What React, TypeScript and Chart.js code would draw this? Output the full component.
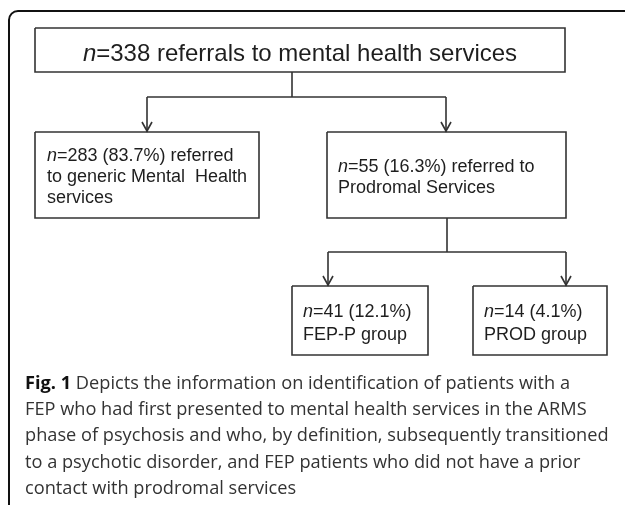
import React, { useEffect, useRef } from "react";
import { Chart, registerables } from "chart.js";
Chart.register(...registerables);

// ---- data ----
const nodeIds = ["total", "generic", "prodromal", "fepP", "prod"];
const nodeCounts = [338, 283, 55, 41, 14];
const nodePercents = ["", "83.7%", "16.3%", "12.1%", "4.1%"];
const nodeFirstLineTail = [
  "referrals to mental health services",
  "referred",
  "referred to",
  "",
  "",
];
const nodeExtraLines = [
  [],
  ["to generic Mental  Health", "services"],
  ["Prodromal Services"],
  ["FEP-P group"],
  ["PROD group"],
];
const captionLabel = "Fig. 1";
const captionLines = [
  "Depicts the information on identification of patients with a",
  "FEP who had first presented to mental health services in the ARMS",
  "phase of psychosis and who, by definition, subsequently transitioned",
  "to a psychotic disorder, and FEP patients who did not have a prior",
  "contact with prodromal services",
];

// ---- layout (scale units) ----
const W = 625;
const H = 505;
const boxes: Record<string, [number, number, number, number]> = {
  total: [35, 28, 565, 72],
  generic: [35, 132, 259, 218],
  prodromal: [327, 132, 566, 218],
  fepP: [292, 286, 428, 355],
  prod: [473, 286, 607, 355],
};
const textLayout: Record<string, { x: number; y: number; gap: number; size: number; center?: boolean }> = {
  total: { x: 300, y: 61, gap: 0, size: 24, center: true },
  generic: { x: 47, y: 161, gap: 21, size: 18 },
  prodromal: { x: 338, y: 172, gap: 21, size: 18 },
  fepP: { x: 303, y: 317, gap: 23, size: 18 },
  prod: { x: 484, y: 317, gap: 23, size: 18 },
};
const splits = [
  { from: "total", x: 292, splitY: 97, to: [["generic", 147], ["prodromal", 446]] },
  { from: "prodromal", x: 447, splitY: 252, to: [["fepP", 328], ["prod", 566]] },
];

const LINE = "#333333";

function buildDatasets() {
  const ds: any[] = [];
  const mk = (pts: { x: number; y: number }[]) => ({
    data: pts,
    showLine: true,
    borderColor: LINE,
    borderWidth: 1.6,
    pointRadius: 0,
    tension: 0,
    fill: false,
  });
  nodeIds.forEach((id) => {
    const [x0, y0, x1, y1] = boxes[id];
    ds.push(
      mk([
        { x: x0, y: y0 },
        { x: x1, y: y0 },
        { x: x1, y: y1 },
        { x: x0, y: y1 },
        { x: x0, y: y0 },
      ])
    );
  });
  splits.forEach((s) => {
    const fb = boxes[s.from];
    ds.push(mk([{ x: s.x, y: fb[3] }, { x: s.x, y: s.splitY }]));
    const xs = s.to.map((t) => t[1] as number);
    ds.push(mk([{ x: Math.min(...xs), y: s.splitY }, { x: Math.max(...xs), y: s.splitY }]));
    s.to.forEach(([tid, tx]) => {
      const tb = boxes[tid as string];
      const ax = tx as number;
      ds.push(mk([{ x: ax, y: s.splitY }, { x: ax, y: tb[1] }]));
      ds.push(
        mk([
          { x: ax - 5, y: tb[1] - 10 },
          { x: ax, y: tb[1] - 1 },
          { x: ax + 5, y: tb[1] - 10 },
        ])
      );
    });
  });
  return ds;
}

const textPlugin = {
  id: "flowText",
  beforeDatasetsDraw(chart: any) {
    const { ctx, scales } = chart;
    const sx = (v: number) => scales.x.getPixelForValue(v);
    const sy = (v: number) => scales.y.getPixelForValue(v);
    ctx.save();
    ctx.strokeStyle = "#111";
    ctx.lineWidth = 2;
    ctx.beginPath();
    ctx.moveTo(sx(W), sy(11));
    ctx.arcTo(sx(9), sy(11), sx(9), sy(H), 9);
    ctx.lineTo(sx(9), sy(H));
    ctx.stroke();
    ctx.restore();
  },
  afterDatasetsDraw(chart: any) {
    const { ctx, scales } = chart;
    const sx = (v: number) => scales.x.getPixelForValue(v);
    const sy = (v: number) => scales.y.getPixelForValue(v);
    ctx.save();
    ctx.fillStyle = "#1e1e1e";
    ctx.textBaseline = "alphabetic";
    nodeIds.forEach((id, i) => {
      const L = textLayout[id];
      const fam = '"Liberation Sans", Arial, sans-serif';
      const italic = `italic ${L.size}px ${fam}`;
      const normal = `${L.size}px ${fam}`;
      const pct = nodePercents[i] ? ` (${nodePercents[i]})` : "";
      const tail = nodeFirstLineTail[i] ? " " + nodeFirstLineTail[i] : "";
      const rest = `=${nodeCounts[i]}${pct}${tail}`;
      ctx.font = italic;
      const wn = ctx.measureText("n").width;
      ctx.font = normal;
      const wr = ctx.measureText(rest).width;
      const x = L.center ? sx(L.x) - (wn + wr) / 2 : sx(L.x);
      ctx.textAlign = "left";
      ctx.font = italic;
      ctx.fillText("n", x, sy(L.y));
      ctx.font = normal;
      ctx.fillText(rest, x + wn, sy(L.y));
      nodeExtraLines[i].forEach((line, k) => {
        ctx.fillText(line, sx(L.x), sy(L.y + L.gap * (k + 1)));
      });
    });
    const cfam = '"Open Sans", "Noto Sans", sans-serif';
    const csize = 18.2;
    const baselines = [389, 415, 441, 468, 494];
    captionLines.forEach((line, k) => {
      let x = sx(25);
      if (k === 0) {
        ctx.font = `bold ${csize}px ${cfam}`;
        ctx.fillStyle = "#111";
        ctx.fillText(captionLabel, x, sy(baselines[k]));
        x += ctx.measureText(captionLabel + " ").width;
      }
      ctx.font = `${csize}px ${cfam}`;
      ctx.fillStyle = "#333";
      ctx.fillText(line, x, sy(baselines[k]));
    });
    ctx.restore();
  },
};

export default function App() {
  const ref = useRef<HTMLCanvasElement>(null);
  useEffect(() => {
    if (!ref.current) return;
    const chart = new Chart(ref.current, {
      type: "scatter",
      data: { datasets: buildDatasets() },
      options: {
        animation: false,
        responsive: false,
        devicePixelRatio: 1,
        layout: { padding: 0 },
        scales: {
          x: { type: "linear", min: 0, max: W, display: false },
          y: { type: "linear", min: 0, max: H, reverse: true, display: false },
        },
        plugins: { legend: { display: false }, tooltip: { enabled: false } },
        events: [],
      },
      plugins: [textPlugin],
    });
    return () => chart.destroy();
  }, []);
  return (
    <div style={{ position: "fixed", left: 0, top: 0, width: W, height: H, background: "#fff" }}>
      <canvas ref={ref} width={W} height={H} style={{ display: "block" }} />
    </div>
  );
}
